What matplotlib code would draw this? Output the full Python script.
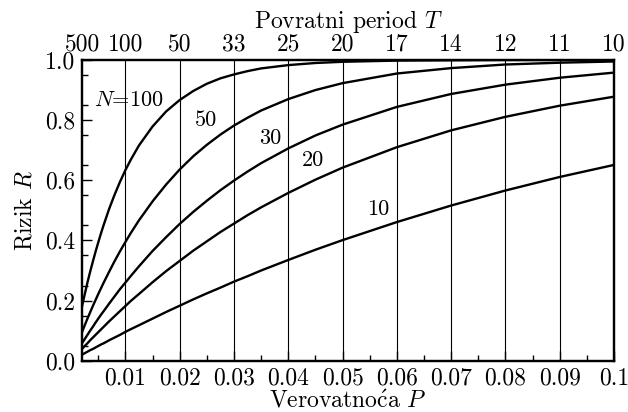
import numpy as np
import matplotlib
matplotlib.use('Agg')
import matplotlib.pyplot as plt

plt.rcParams['font.family'] = ['cmr10', 'DejaVu Serif']
plt.rcParams['mathtext.fontset'] = 'cm'
plt.rcParams['axes.formatter.use_mathtext'] = True
plt.rcParams['font.size'] = 17

# probability P (x axis)
p = [0.002, 0.0025, 0.003, 0.0035, 0.004, 0.0045, 0.005, 0.0055, 0.006, 0.007, 0.008,
     0.009, 0.01, 0.011, 0.0125, 0.015, 0.0175, 0.02, 0.0225, 0.025, 0.0275, 0.03,
     0.0325, 0.035, 0.04, 0.045, 0.05, 0.06, 0.07, 0.08, 0.09, 0.1]

# risk R
r_10 = [0.020, 0.025, 0.030, 0.035, 0.039, 0.044, 0.049, 0.054, 0.058, 0.068, 0.077,
        0.086, 0.096, 0.105, 0.118, 0.140, 0.162, 0.183, 0.204, 0.224, 0.243, 0.263,
        0.281, 0.300, 0.335, 0.369, 0.401, 0.461, 0.516, 0.566, 0.611, 0.651]
r_20 = [0.039, 0.049, 0.058, 0.068, 0.077, 0.086, 0.095, 0.104, 0.113, 0.131, 0.148,
        0.165, 0.182, 0.199, 0.222, 0.261, 0.298, 0.332, 0.366, 0.397, 0.428, 0.456,
        0.484, 0.510, 0.558, 0.602, 0.642, 0.710, 0.766, 0.811, 0.848, 0.878]
r_30 = [0.058, 0.072, 0.086, 0.100, 0.113, 0.127, 0.140, 0.153, 0.165, 0.190, 0.214,
        0.238, 0.260, 0.282, 0.314, 0.365, 0.411, 0.455, 0.495, 0.532, 0.567, 0.599,
        0.629, 0.657, 0.706, 0.749, 0.785, 0.844, 0.887, 0.918, 0.941, 0.958]
r_50 = [0.095, 0.118, 0.140, 0.161, 0.182, 0.202, 0.222, 0.241, 0.260, 0.296, 0.331,
        0.364, 0.395, 0.425, 0.467, 0.530, 0.586, 0.636, 0.680, 0.718, 0.752, 0.782,
        0.808, 0.832, 0.870, 0.900, 0.923, 0.955, 0.973, 0.985, 0.991, 0.995]
r_100 = [0.181, 0.221, 0.260, 0.296, 0.330, 0.363, 0.394, 0.424, 0.452, 0.505, 0.552,
         0.595, 0.634, 0.669, 0.716, 0.779, 0.829, 0.867, 0.897, 0.921, 0.939, 0.952,
         0.963, 0.972, 0.983, 0.990, 0.994, 0.998, 0.999, 1.000, 1.000, 1.000]

curves = [r_100, r_50, r_30, r_20, r_10]
curve_labels = [r'$N$=100', '50', '30', '20', '10']
label_pos = [(0.0107, 0.867), (0.0249, 0.80), (0.0367, 0.74), (0.0446, 0.667), (0.0566, 0.504)]

bottom_ticks = [0.01, 0.02, 0.03, 0.04, 0.05, 0.06, 0.07, 0.08, 0.09, 0.1]
bottom_labels = ['0.01', '0.02', '0.03', '0.04', '0.05', '0.06', '0.07', '0.08', '0.09', '0.1']
top_ticks = [0.002, 0.01, 0.02, 0.03, 0.04, 0.05, 0.06, 0.07, 0.08, 0.09, 0.1]
top_labels = ['500', '100', '50', '33', '25', '20', '17', '14', '12', '11', '10']

fig = plt.figure(figsize=(6.28, 4.12), dpi=100)
ax = fig.add_axes([0.1306, 0.1245, 0.8471, 0.7299])

for xv in bottom_ticks[:-1]:
    ax.axvline(xv, color='k', lw=0.8, zorder=1)

for r in curves:
    ax.plot(p, r, color='k', lw=1.7, zorder=2)

for lab, (xl, yl) in zip(curve_labels, label_pos):
    ax.text(xl, yl, lab, ha='center', va='center', fontsize=16)

ax.set_xlim(0.002, 0.1)
ax.set_ylim(0, 1)
ax.set_xticks(bottom_ticks)
ax.set_xticklabels(bottom_labels)
ax.set_xticks(np.arange(0.005, 0.1, 0.01), minor=True)
ax.set_yticks([0.0, 0.2, 0.4, 0.6, 0.8, 1.0])
ax.set_yticklabels(['0.0', '0.2', '0.4', '0.6', '0.8', '1.0'])
ax.set_yticks(np.arange(0.05, 1.0, 0.1), minor=True)
ax.tick_params(axis='both', which='major', direction='in', length=7, width=1, pad=5)
ax.tick_params(axis='both', which='minor', direction='in', length=4, width=1)
ax.tick_params(right=False, top=False)
for s in ax.spines.values():
    s.set_linewidth(1.6)

ax.set_xlabel(r'Verovatno$\mathrm{\acute{c}}$a $P$', labelpad=0)
ax.set_ylabel(r'Rizik $R$', labelpad=6)

ax2 = ax.twiny()
ax2.set_xlim(ax.get_xlim())
ax2.set_xticks(top_ticks)
ax2.set_xticklabels(top_labels)
ax2.tick_params(axis='x', direction='in', length=0, pad=3)
ax2.set_xlabel(r'Povratni period $T$', labelpad=4)
for s in ax2.spines.values():
    s.set_linewidth(1.6)

fig.savefig('out.png', dpi=100)
